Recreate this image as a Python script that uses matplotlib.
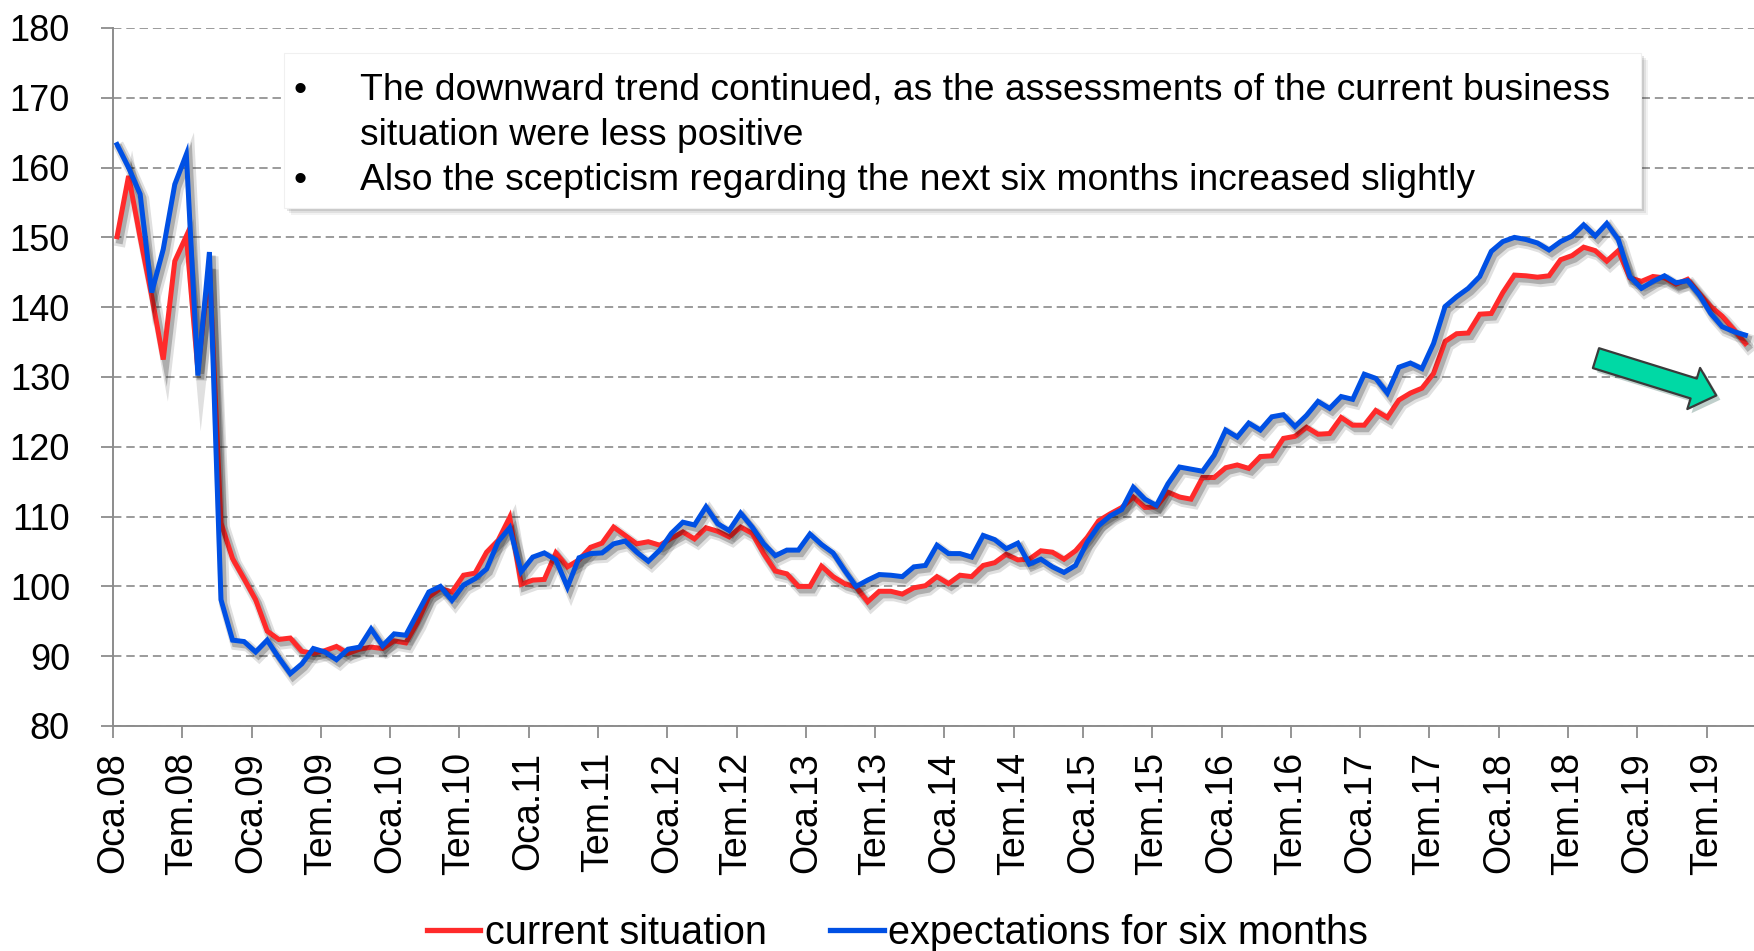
import numpy as np
import matplotlib
matplotlib.use('Agg')
import matplotlib.pyplot as plt
import matplotlib.patheffects as pe
from matplotlib.patches import Rectangle
from matplotlib.lines import Line2D

plt.rcParams['font.family'] = ['Liberation Sans', 'DejaVu Sans']

# monthly data, Oca.08 (Jan 2008) .. Eki.19 (Oct 2019)
current_situation = [
    150.1, 158.8, 150.0, 141.6, 132.5, 146.6, 150.2, 131.0, 146.0, 109.1, 104.0, 101.1,
    98.1, 93.6, 92.4, 92.6, 90.7, 90.4, 90.8, 91.4, 90.4, 91.0, 91.3, 91.1,
    92.2, 91.9, 94.8, 98.5, 99.7, 99.2, 101.6, 101.9, 104.9, 106.6, 109.9, 100.3,
    100.9, 101.0, 104.8, 102.8, 103.8, 105.6, 106.2, 108.5, 107.3, 106.1, 106.4, 105.9,
    106.9, 107.8, 106.8, 108.4, 107.9, 107.1, 108.5, 107.6, 104.7, 102.2, 101.8, 100.0,
    100.0, 102.9, 101.4, 100.4, 99.9, 97.8, 99.3, 99.3, 98.9, 99.8, 100.1, 101.4,
    100.4, 101.6, 101.4, 103.0, 103.4, 104.6, 103.8, 103.9, 105.1, 104.9, 103.9, 105.1,
    107.0, 109.4, 110.4, 111.3, 112.8, 111.3, 111.4, 113.5, 112.8, 112.5, 115.6, 115.6,
    117.0, 117.4, 116.9, 118.6, 118.7, 121.2, 121.5, 122.8, 121.8, 121.9, 124.2, 123.1,
    123.1, 125.2, 124.2, 126.7, 127.7, 128.4, 130.5, 135.1, 136.2, 136.3, 139.0, 139.1,
    142.1, 144.6, 144.5, 144.3, 144.5, 146.8, 147.4, 148.6, 148.1, 146.6, 148.1, 144.2,
    143.7, 144.4, 144.2, 143.3, 144.0, 142.0, 140.1, 138.7, 136.8, 134.8,
]
expectations = [
    163.3, 160.0, 156.2, 142.1, 148.3, 157.6, 161.9, 130.2, 147.9, 98.1, 92.3, 92.1,
    90.6, 92.3, 89.8, 87.5, 88.9, 91.1, 90.6, 89.5, 91.0, 91.3, 93.9, 91.5,
    93.2, 93.0, 96.1, 99.2, 100.0, 98.0, 100.2, 101.1, 102.5, 106.4, 108.4, 102.1,
    104.2, 104.8, 103.8, 99.9, 104.1, 104.7, 104.8, 106.1, 106.5, 104.9, 103.6, 105.2,
    107.6, 109.2, 108.8, 111.4, 109.0, 108.0, 110.5, 108.5, 106.1, 104.4, 105.2, 105.2,
    107.5, 106.0, 104.8, 102.3, 100.0, 100.9, 101.7, 101.6, 101.4, 102.8, 103.0, 105.9,
    104.7, 104.7, 104.2, 107.3, 106.7, 105.4, 106.2, 103.2, 103.9, 102.8, 102.0, 103.0,
    106.3, 108.7, 110.1, 111.0, 114.2, 112.5, 111.6, 114.7, 117.1, 116.8, 116.5, 118.8,
    122.4, 121.4, 123.4, 122.4, 124.3, 124.6, 122.9, 124.5, 126.5, 125.5, 127.2, 126.8,
    130.4, 129.8, 127.7, 131.4, 132.0, 131.2, 134.8, 140.1, 141.5, 142.7, 144.4, 148.0,
    149.4, 150.0, 149.7, 149.2, 148.2, 149.4, 150.2, 151.8, 150.2, 152.0, 149.7, 144.4,
    142.7, 143.7, 144.5, 143.5, 143.8, 141.8, 139.1, 137.2, 136.5, 136.0,
]
years = ['08', '09', '10', '11', '12', '13', '14', '15', '16', '17', '18', '19']
tick_labels = [f'{m}.{y}' for y in years for m in ('Oca', 'Tem')]
notes = [
    ['The downward trend continued, as the assessments of the current business',
     'situation were less positive'],
    ['Also the scepticism regarding the next six months increased slightly'],
]

RED = '#FF2A2A'
BLUE = '#0050E4'
GRAY = '#8C8C8C'
W, H = 1754, 951

fig = plt.figure(figsize=(W / 100, H / 100), dpi=100)
ax = fig.add_axes([113 / W, 1 - 726 / H, 1 - 113 / W, (726 - 28) / H])

x = np.arange(len(current_situation)) + 0.35
shadow = [pe.SimpleLineShadow(offset=(2.5, -3.2), shadow_color='black', alpha=0.12, linewidth=8),
          pe.SimpleLineShadow(offset=(2.0, -2.6), shadow_color='black', alpha=0.22, linewidth=5),
          pe.Normal()]
ax.plot(x, current_situation, color=RED, lw=3.6, solid_joinstyle='miter', path_effects=shadow, zorder=3)
ax.plot(x, expectations, color=BLUE, lw=3.6, solid_joinstyle='miter', path_effects=shadow, zorder=4)

ax.set_ylim(80, 180)
ax.set_yticks(np.arange(80, 181, 10))
ax.set_xlim(0, 142.1)
ax.set_xticks(np.arange(len(tick_labels)) * 6)
ax.set_xticklabels(tick_labels, rotation=90, fontsize=27)
ax.tick_params(axis='y', labelsize=26, length=9, width=1.3, color=GRAY, pad=22)
ax.tick_params(axis='x', length=8.6, width=1.3, color=GRAY, pad=10)
ax.yaxis.grid(True, color='#808080', lw=1.1, linestyle=(0, (5.5, 3.2)))
ax.set_axisbelow(True)
for s in ('top', 'right'):
    ax.spines[s].set_visible(False)
for s in ('left', 'bottom'):
    ax.spines[s].set_color(GRAY)
    ax.spines[s].set_linewidth(1.4)

# green trend arrow
ax.annotate('', xy=(0.977, 0.4735), xytext=(0.9037, 0.527), xycoords='axes fraction',
            arrowprops=dict(arrowstyle='simple,head_width=31,head_length=17,tail_width=15',
                            mutation_scale=1, fc='#00D9A5', ec='#3A3A3A', lw=1.6,
                            shrinkA=0, shrinkB=0,
                            path_effects=[pe.SimplePatchShadow(offset=(3, -3), alpha=0.25),
                                          pe.Normal()]),
            zorder=6)

# text box with shadow
bx0, by0, bx1, by1 = 284, 53, 1641, 208
for k, a in ((7, 0.05), (5, 0.07), (3, 0.10)):
    fig.patches.append(Rectangle(((bx0 + k) / W, 1 - (by1 + k) / H), (bx1 - bx0) / W, (by1 - by0) / H,
                                 transform=fig.transFigure, fc='black', ec='none', alpha=a, zorder=2))
fig.patches.append(Rectangle((bx0 / W, 1 - by1 / H), (bx1 - bx0) / W, (by1 - by0) / H,
                             transform=fig.transFigure, fc='white', ec='#F0F0F0', lw=0.8, zorder=3))
baselines = [100, 145, 190]
row = 0
for item in notes:
    fig.text(300 / W, 1 - baselines[row] / H, '\u2022', fontsize=26.8, ha='center', va='baseline', zorder=4)
    for line in item:
        fig.text(360 / W, 1 - baselines[row] / H, line, fontsize=26.8, va='baseline', zorder=4)
        row += 1

handles = [Line2D([], [], color=RED, lw=3.8), Line2D([], [], color=BLUE, lw=3.8)]
fig.legend(handles, ['current situation', 'expectations for six months'], loc='center',
           bbox_to_anchor=(0.5116, 1 - 933 / H), ncol=2, frameon=False, fontsize=28.5,
           handlelength=1.35, handletextpad=0.12, columnspacing=1.6, borderpad=0)

fig.savefig('out.png', dpi=100)
